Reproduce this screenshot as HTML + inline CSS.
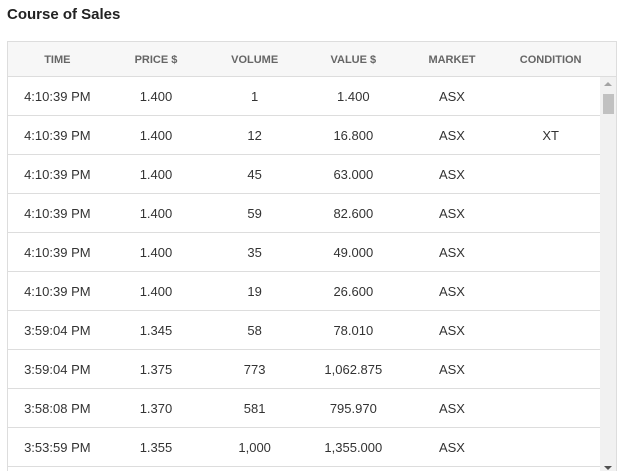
<!DOCTYPE html>
<html><head><style>
*{margin:0;padding:0;box-sizing:border-box}
html,body{width:623px;height:471px;overflow:hidden}
body{background:#fff;font-family:"Liberation Sans",Arial,sans-serif;position:relative}
h1{position:absolute;left:7px;top:6px;font-size:15px;font-weight:bold;color:#222}
.box{position:absolute;left:7px;top:41px;width:610px;height:440px;border:1px solid #ddd;border-bottom:none;overflow:hidden}
.hdr{position:absolute;left:0;top:0;width:608px;height:35px;background:#f7f7f7;border-bottom:1px solid #ddd}
.row{position:absolute;left:0;width:592px;height:39px;border-bottom:1px solid #ddd}
.c{position:absolute;width:98.67px;text-align:center}
.hdr .c{top:12px;font-size:11px;font-weight:bold;color:#666}
.row .c{top:12px;font-size:13px;color:#333}
.sb{position:absolute;left:592px;top:35px;width:17px;height:410px;background:#f1f1f1}
.th{position:absolute;left:3px;top:17px;width:11px;height:20px;background:#c1c1c1}
.up{position:absolute;left:4px;top:5px;border-left:4px solid transparent;border-right:4px solid transparent;border-bottom:4px solid #a3a3a3}
.dn{position:absolute;left:4px;top:389px;border-left:4px solid transparent;border-right:4px solid transparent;border-top:4px solid #505050}
</style></head><body>
<h1>Course of Sales</h1>
<div class="box">
<div class="hdr">
<div class="c" style="left:0">TIME</div><div class="c" style="left:98.67px">PRICE $</div><div class="c" style="left:197.33px">VOLUME</div><div class="c" style="left:296px">VALUE $</div><div class="c" style="left:394.67px">MARKET</div><div class="c" style="left:493.33px">CONDITION</div>
</div>
<div class="sb"><div class="up"></div><div class="th"></div><div class="dn"></div></div>
<div class="row" style="top:35px"><div class="c" style="left:0">4:10:39 PM</div><div class="c" style="left:98.67px">1.400</div><div class="c" style="left:197.33px">1</div><div class="c" style="left:296px">1.400</div><div class="c" style="left:394.67px">ASX</div></div>
<div class="row" style="top:74px"><div class="c" style="left:0">4:10:39 PM</div><div class="c" style="left:98.67px">1.400</div><div class="c" style="left:197.33px">12</div><div class="c" style="left:296px">16.800</div><div class="c" style="left:394.67px">ASX</div><div class="c" style="left:493.33px">XT</div></div>
<div class="row" style="top:113px"><div class="c" style="left:0">4:10:39 PM</div><div class="c" style="left:98.67px">1.400</div><div class="c" style="left:197.33px">45</div><div class="c" style="left:296px">63.000</div><div class="c" style="left:394.67px">ASX</div></div>
<div class="row" style="top:152px"><div class="c" style="left:0">4:10:39 PM</div><div class="c" style="left:98.67px">1.400</div><div class="c" style="left:197.33px">59</div><div class="c" style="left:296px">82.600</div><div class="c" style="left:394.67px">ASX</div></div>
<div class="row" style="top:191px"><div class="c" style="left:0">4:10:39 PM</div><div class="c" style="left:98.67px">1.400</div><div class="c" style="left:197.33px">35</div><div class="c" style="left:296px">49.000</div><div class="c" style="left:394.67px">ASX</div></div>
<div class="row" style="top:230px"><div class="c" style="left:0">4:10:39 PM</div><div class="c" style="left:98.67px">1.400</div><div class="c" style="left:197.33px">19</div><div class="c" style="left:296px">26.600</div><div class="c" style="left:394.67px">ASX</div></div>
<div class="row" style="top:269px"><div class="c" style="left:0">3:59:04 PM</div><div class="c" style="left:98.67px">1.345</div><div class="c" style="left:197.33px">58</div><div class="c" style="left:296px">78.010</div><div class="c" style="left:394.67px">ASX</div></div>
<div class="row" style="top:308px"><div class="c" style="left:0">3:59:04 PM</div><div class="c" style="left:98.67px">1.375</div><div class="c" style="left:197.33px">773</div><div class="c" style="left:296px">1,062.875</div><div class="c" style="left:394.67px">ASX</div></div>
<div class="row" style="top:347px"><div class="c" style="left:0">3:58:08 PM</div><div class="c" style="left:98.67px">1.370</div><div class="c" style="left:197.33px">581</div><div class="c" style="left:296px">795.970</div><div class="c" style="left:394.67px">ASX</div></div>
<div class="row" style="top:386px"><div class="c" style="left:0">3:53:59 PM</div><div class="c" style="left:98.67px">1.355</div><div class="c" style="left:197.33px">1,000</div><div class="c" style="left:296px">1,355.000</div><div class="c" style="left:394.67px">ASX</div></div>
</div>
</body></html>
